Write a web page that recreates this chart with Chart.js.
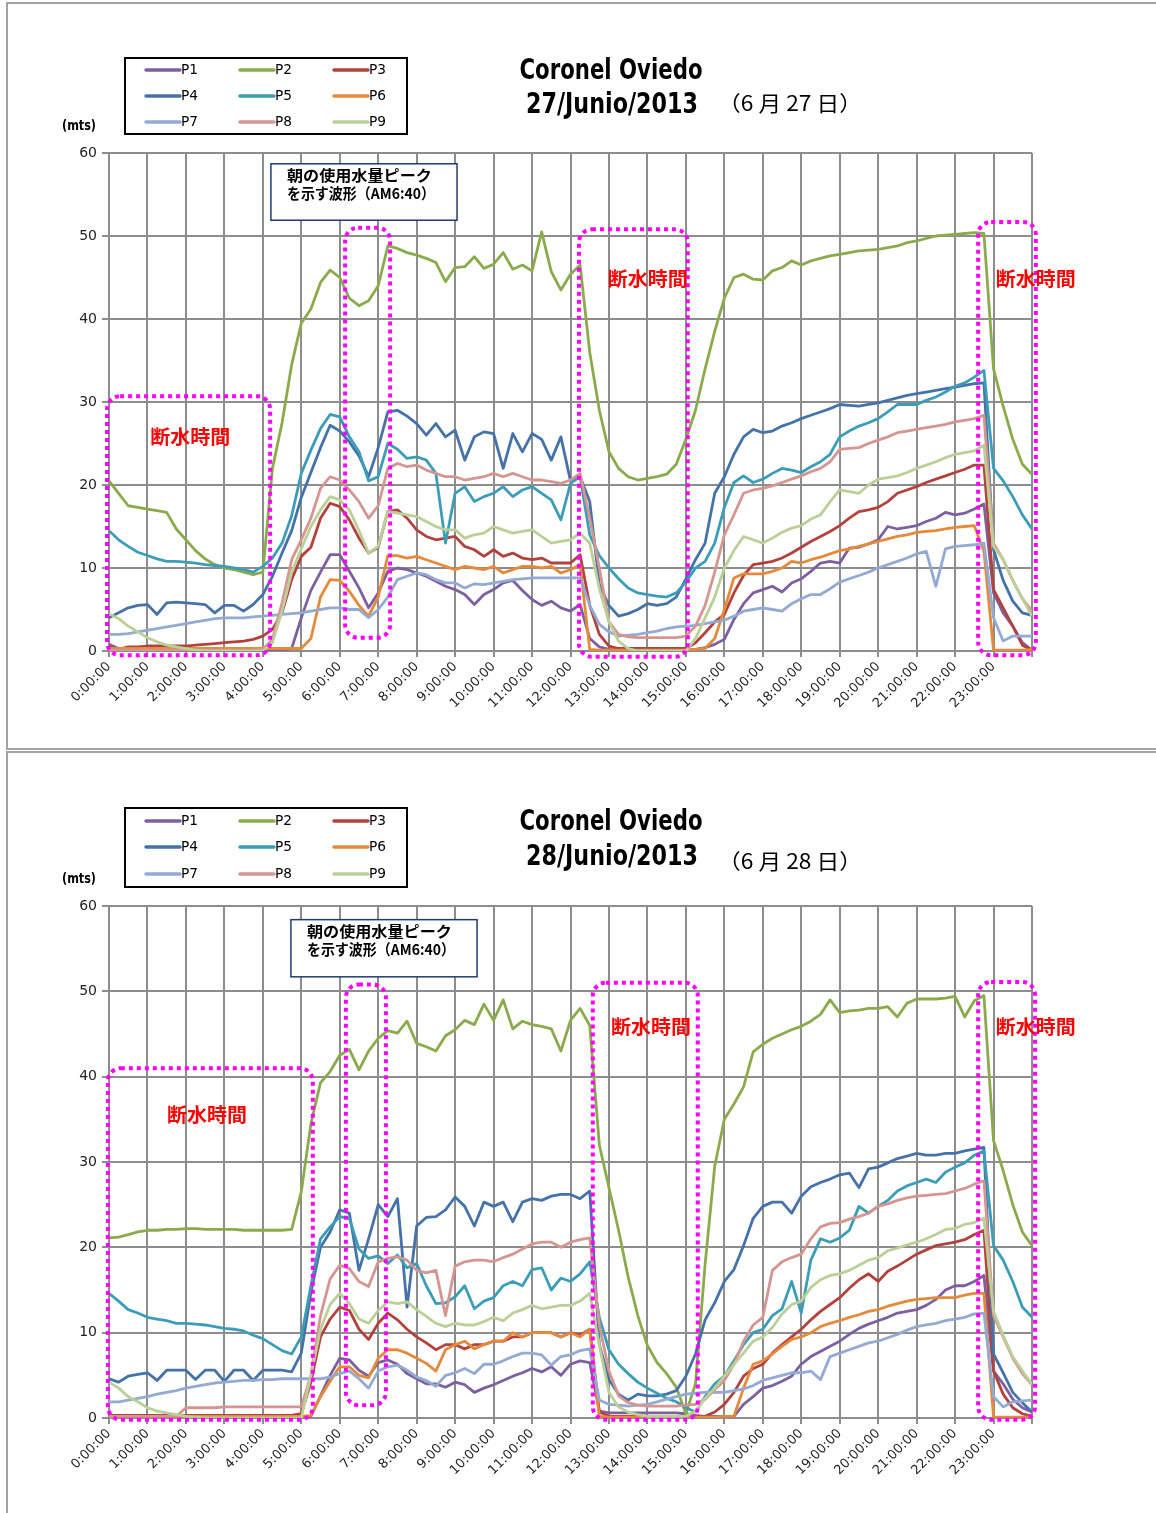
<!DOCTYPE html>
<html>
<head>
<meta charset="utf-8">
<script src="https://cdn.jsdelivr.net/npm/chart.js@4.4.0/dist/chart.umd.min.js"></script>
<style>
  html, body { margin: 0; padding: 0; background: #fff; width: 1156px; height: 1513px; overflow: hidden; }
  .panel { position: absolute; left: 6px; width: 1200px; border: 2px solid #a3a3a3; box-sizing: border-box; }
  #panelA { top: 2px; height: 748px; }
  #panelB { top: 751px; height: 800px; }
  canvas { position: absolute; left: 0; }
  #chartA { top: 0; }
  #chartB { top: 752px; }
</style>
</head>
<body>
<div class="panel" id="panelA"></div>
<div class="panel" id="panelB"></div>
<canvas id="chartA" width="1156" height="750"></canvas>
<canvas id="chartB" width="1156" height="761"></canvas>
<script>
// ---- Pressure readings (mts) every 15 minutes, 0:00 to 24:00 ----
const SAMPLES_PER_HOUR = 4;
const sampleHours = Array.from({ length: 24 * SAMPLES_PER_HOUR + 1 }, (_, i) => i / SAMPLES_PER_HOUR);

const hourLabels = ['0:00:00','1:00:00','2:00:00','3:00:00','4:00:00','5:00:00','6:00:00','7:00:00',
  '8:00:00','9:00:00','10:00:00','11:00:00','12:00:00','13:00:00','14:00:00','15:00:00','16:00:00',
  '17:00:00','18:00:00','19:00:00','20:00:00','21:00:00','22:00:00','23:00:00'];
const valueTicks = [0, 10, 20, 30, 40, 50, 60];

const seriesNames = ['P1', 'P2', 'P3', 'P4', 'P5', 'P6', 'P7', 'P8', 'P9'];
const seriesColors = ['#7d60a0', '#8aab4b', '#b2423e', '#4572a8', '#3c9db8', '#e58a3b', '#93aad3', '#d59591', '#bbd097'];

// 27 June 2013
const jun27P1 = [0.8,0.3,0.1,0.1, 0.1,0.1,0.1,0.1, 0.1,0.1,0.1,0.1, 0.1,0.1,0.1,0.1, 0.1,0.1,0.1,0.3, 4.0,7.3,9.5,11.6,
  11.6,9.6,7.6,5.2, 7.0,9.6,10.0,9.8, 9.4,9.0,8.4,7.8, 7.4,6.8,5.6,6.8, 7.4,8.2,8.5,7.3, 6.2,5.5,6.0,5.2,
  4.8,5.6,1.5,0.5, 0.2,0.1,0.1,0.1, 0.1,0.1,0.1,0.1, 0.1,0.2,0.4,0.8, 1.4,3.8,5.7,7.0, 7.4,7.8,7.1,8.2,
  8.7,9.6,10.6,10.8, 10.6,12.4,12.5,12.9, 13.4,15.0,14.7,14.9, 15.1,15.6,16.0,16.7, 16.4,16.6,17.1,17.7, 7.0,4.6,3.0,1.0, 0.1];
const jun27P2 = [20.5,19.0,17.5,17.3, 17.1,16.9,16.7,14.7, 13.4,12.1,11.1,10.4, 10.0,9.8,9.5,9.2, 9.5,22.0,27.5,34.5, 39.5,41.2,44.4,45.9,
  45.0,42.5,41.6,42.2, 44.0,48.8,48.5,48.0, 47.7,47.3,46.8,44.5, 46.2,46.3,47.5,46.1, 46.6,48.0,46.0,46.5, 45.8,50.5,45.7,43.5,
  45.4,46.5,36.0,29.0, 24.0,22.0,21.0,20.6, 20.8,21.0,21.3,22.5, 25.5,29.0,34.0,38.5, 42.5,45.0,45.4,44.8, 44.7,45.8,46.2,47.0,
  46.5,47.0,47.3,47.6, 47.8,48.0,48.2,48.3, 48.4,48.6,48.8,49.2, 49.4,49.7,50.0,50.1, 50.2,50.3,50.4,50.3, 34.0,29.5,25.5,22.5, 21.3];
const jun27P3 = [0.5,0.2,0.5,0.5, 0.6,0.6,0.6,0.6, 0.6,0.7,0.8,0.9, 1.0,1.1,1.2,1.4, 1.8,2.6,4.6,8.6, 11.4,12.5,16.0,17.8,
  17.4,15.8,13.6,11.8, 12.5,16.8,17.0,16.0, 14.6,13.8,13.4,13.6, 13.8,12.6,12.2,11.4, 12.2,11.4,11.8,11.2, 11.0,11.2,10.6,10.6,
  10.6,11.6,5.5,2.0, 0.6,0.3,0.3,0.3, 0.3,0.3,0.3,0.3, 0.3,1.0,2.2,3.5, 4.4,7.0,9.1,10.4, 10.6,10.8,11.2,11.8,
  12.5,13.2,13.8,14.4, 15.1,16.0,16.8,17.0, 17.3,18.0,19.0,19.4, 19.8,20.3,20.7,21.1, 21.5,21.9,22.4,22.4, 7.4,5.2,3.0,0.7, 0.1];
const jun27P4 = [4.0,4.6,5.2,5.5, 5.6,4.4,5.8,5.9, 5.8,5.7,5.6,4.6, 5.5,5.5,4.8,5.6, 6.8,9.0,11.8,14.5, 18.5,21.5,24.5,27.2,
  26.5,25.2,23.5,21.0, 24.5,28.8,29.0,28.3, 27.4,26.0,27.4,25.8, 26.6,23.0,25.8,26.4, 26.2,22.0,26.2,24.0, 26.2,25.5,23.0,25.8,
  20.5,21.0,18.0,8.0, 5.5,4.2,4.5,5.0, 5.7,5.5,5.7,6.5, 8.7,11.0,13.0,19.0, 21.0,23.7,25.8,26.7, 26.3,26.5,27.1,27.5,
  28.0,28.4,28.8,29.2, 29.7,29.6,29.5,29.7, 29.9,30.2,30.5,30.8, 31.0,31.2,31.4,31.6, 31.8,32.0,32.2,32.3, 12.2,8.5,6.0,4.6, 4.3];
const jun27P5 = [14.5,13.4,12.6,11.9, 11.5,11.1,10.8,10.8, 10.7,10.6,10.4,10.3, 10.2,10.0,9.8,9.5, 10.2,11.2,13.0,16.3, 21.4,24.2,26.8,28.5,
  28.2,25.8,24.0,20.5, 21.0,25.0,24.3,23.2, 23.4,23.0,21.4,13.0, 19.0,19.8,18.0,18.6, 19.0,19.8,18.6,19.4, 19.8,19.0,18.2,15.8,
  20.2,21.0,14.0,11.5, 10.0,8.7,7.6,7.0, 6.8,6.6,6.5,7.0, 8.3,10.0,10.8,13.0, 17.3,20.3,21.1,20.3, 20.7,21.4,22.0,21.8,
  21.5,22.2,22.8,23.7, 25.8,26.5,27.1,27.5, 28.0,28.8,29.7,29.7, 29.7,30.2,30.6,31.2, 31.9,32.3,33.0,33.8, 22.0,20.5,18.6,16.4, 14.7];
const jun27P6 = [0.3,0.3,0.3,0.3, 0.3,0.3,0.3,0.3, 0.3,0.3,0.3,0.3, 0.3,0.3,0.3,0.3, 0.3,0.3,0.3,0.3, 0.3,1.5,6.5,8.6,
  8.5,7.2,5.5,4.2, 6.5,11.5,11.5,11.2, 11.4,11.0,10.6,10.2, 9.8,10.2,10.0,9.8, 10.2,9.4,9.8,10.2, 10.2,10.0,10.2,9.4,
  9.8,10.4,0.2,0.1, 0.1,0.1,0.1,0.1, 0.1,0.1,0.1,0.1, 0.1,0.2,0.3,1.5, 5.0,8.8,9.3,9.3, 9.3,9.6,10.0,10.8,
  10.6,11.0,11.3,11.7, 12.1,12.3,12.6,12.9, 13.2,13.5,13.8,14.0, 14.3,14.4,14.5,14.7, 14.9,15.0,15.1,12.0, 0.1,0.1,0.1,0.1, 0.2];
const jun27P7 = [2.0,2.0,2.1,2.3, 2.5,2.7,2.9,3.1, 3.3,3.5,3.7,3.9, 4.0,4.0,4.0,4.1, 4.2,4.3,4.4,4.5, 4.6,4.8,5.0,5.2,
  5.2,5.0,5.0,4.0, 5.0,6.5,8.6,9.0, 9.4,9.2,8.6,8.2, 8.2,7.6,8.1,8.0, 8.2,8.4,8.6,8.7, 8.8,8.8,8.8,8.8,
  8.8,8.8,5.5,3.2, 2.3,1.8,1.9,2.0, 2.2,2.4,2.7,2.9, 3.0,3.1,3.3,3.5, 3.7,4.2,4.8,5.0, 5.2,5.0,4.8,5.7,
  6.3,6.8,6.8,7.5, 8.3,8.7,9.1,9.5, 10.0,10.4,10.8,11.2, 11.7,12.0,7.8,12.3, 12.6,12.7,12.8,13.0, 4.0,1.2,1.8,1.8, 1.8];
const jun27P8 = [0.1,0.1,0.1,0.1, 0.1,0.1,0.1,0.1, 0.1,0.1,0.1,0.1, 0.1,0.1,0.1,0.1, 0.2,1.4,5.8,11.0, 13.4,16.0,19.6,21.0,
  20.6,19.4,18.0,16.0, 17.5,22.0,22.6,22.2, 22.4,21.8,21.4,21.0, 21.0,20.6,20.8,21.0, 21.4,21.0,21.4,21.0, 20.6,20.6,20.4,20.2,
  20.6,21.4,16.0,10.0, 3.5,2.0,1.7,1.6, 1.6,1.6,1.6,1.6, 1.8,3.0,5.5,9.5, 14.0,16.4,19.0,19.4, 19.6,19.9,20.3,20.7,
  21.1,21.6,22.0,22.8, 24.3,24.4,24.5,25.0, 25.4,25.8,26.3,26.5, 26.7,26.9,27.1,27.3, 27.6,27.8,28.0,28.4, 13.0,11.0,8.5,6.3, 4.8];
const jun27P9 = [4.5,3.9,3.0,2.3, 1.6,1.1,0.7,0.5, 0.3,0.1,0,0, 0,0,0,0, 0,1.0,4.8,9.5, 12.3,15.0,17.0,18.6,
  18.2,17.0,14.5,11.8, 12.6,16.8,16.6,16.4, 16.2,15.6,15.0,14.6, 14.6,13.6,14.0,14.2, 15.0,14.6,14.2,14.4, 14.6,13.8,13.0,13.2,
  13.4,14.2,13.0,7.5, 3.5,1.2,0.3,0, 0,0,0,0, 0,1.5,4.0,6.5, 10.0,12.1,13.8,13.4, 13.0,13.6,14.3,14.8,
  15.1,15.9,16.4,18.0, 19.4,19.2,19.0,20.0, 20.7,20.9,21.1,21.5, 22.0,22.4,22.8,23.3, 23.7,23.9,24.1,24.8, 12.6,11.0,8.5,6.3, 4.2];

// 28 June 2013
const jun28P1 = [0.1,0.1,0.1,0.1, 0.1,0.1,0.1,0.1, 0.1,0.1,0.1,0.1, 0.1,0.1,0.1,0.1, 0.1,0.1,0.1,0.1, 0.1,0.2,2.6,5.0,
  7.0,6.8,5.6,4.9, 6.5,6.8,6.3,5.2, 4.6,4.0,4.0,3.6, 4.2,3.9,3.0,3.5, 3.9,4.4,4.9,5.3, 5.8,5.4,6.0,5.0,
  6.3,6.7,6.5,0.8, 0.6,0.6,0.6,0.6, 0.6,0.6,0.6,0.6, 0.5,0.3,0.2,0.2, 0.2,0.2,1.6,2.5, 3.5,3.8,4.3,4.9,
  6.3,7.2,7.8,8.4, 9.0,9.8,10.5,11.0, 11.4,11.8,12.3,12.5, 12.7,13.2,13.9,15.0, 15.5,15.5,16.0,16.7, 5.5,4.0,2.2,1.2, 0.7];
const jun28P2 = [21.1,21.2,21.5,21.8, 22.0,22.0,22.1,22.1, 22.2,22.2,22.1,22.1, 22.1,22.1,22.0,22.0, 22.0,22.0,22.0,22.1, 26.5,34.5,39.3,40.6,
  42.5,43.2,40.8,43.0, 44.5,45.4,45.1,46.5, 43.9,43.5,43.0,44.8, 45.5,46.6,46.1,48.5, 46.6,49.0,45.6,46.5, 46.1,45.9,45.6,43.0,
  46.6,48.0,46.0,32.0, 27.0,22.0,16.5,12.0, 8.5,6.5,5.2,3.6, 0.5,4.0,18.0,29.5, 35.0,36.8,38.8,42.9, 43.8,44.5,45.0,45.5,
  45.9,46.5,47.3,49.0, 47.5,47.7,47.8,48.0, 48.0,48.2,47.0,48.6, 49.1,49.1,49.1,49.2, 49.4,47.0,48.9,49.5, 32.5,29.0,25.0,21.8, 20.2];
const jun28P3 = [0.3,0.3,0.3,0.3, 0.3,0.3,0.3,0.3, 0.3,0.3,0.3,0.3, 0.3,0.3,0.3,0.3, 0.3,0.3,0.3,0.3, 0.5,4.2,9.5,11.6,
  13.0,12.6,10.4,9.2, 11.1,12.3,11.5,10.4, 9.5,8.8,8.0,8.6, 8.6,8.1,8.6,8.6, 9.0,9.0,9.5,9.5, 10.0,10.0,10.0,9.5,
  10.0,9.7,10.4,0.7, 0.2,0.2,0.2,0.2, 0.2,0.2,0.2,0.2, 0.2,0.2,0.2,0.7, 1.6,3.0,4.9,5.8, 6.3,7.6,8.6,9.5,
  10.4,11.5,12.5,13.3, 14.1,15.2,16.2,16.9, 16.0,17.2,17.8,18.5, 19.2,19.7,20.2,20.4, 20.6,20.9,21.5,22.0, 5.5,2.8,1.2,0.5, 0.2];
const jun28P4 = [4.6,4.2,4.9,5.1, 5.3,4.4,5.6,5.6, 5.6,4.5,5.6,5.6, 4.3,5.6,5.6,4.4, 5.6,5.6,5.6,5.4, 7.6,14.7,20.0,21.8,
  24.4,24.0,17.3,21.0, 25.0,23.6,25.7,13.0, 22.5,23.5,23.6,24.4, 25.9,24.8,22.5,25.3, 24.8,25.3,23.0,25.3, 25.7,25.5,26.0,26.2,
  26.2,25.7,26.6,8.6, 4.5,2.8,2.1,2.8, 2.6,2.6,2.8,3.2, 4.9,7.5,11.5,13.5, 16.0,17.4,20.2,23.4, 24.8,25.3,25.3,24.0,
  26.0,27.1,27.6,28.0, 28.5,28.7,27.0,29.2, 29.4,29.9,30.4,30.7, 31.0,30.8,30.8,31.0, 31.0,31.3,31.5,31.7, 7.5,5.3,3.0,1.8, 0.7];
const jun28P5 = [14.6,13.7,12.7,12.3, 11.8,11.6,11.4,11.1, 11.1,11.0,10.9,10.7, 10.5,10.4,10.2,9.7, 9.3,8.6,7.9,7.5, 9.5,15.5,21.0,22.4,
  23.6,23.4,19.8,18.7, 19.0,18.1,19.1,17.6, 18.1,15.5,13.4,13.5, 14.2,15.5,12.8,13.7, 14.1,15.5,16.0,15.5, 17.4,17.6,15.0,16.4,
  16.0,16.9,18.3,11.8, 8.0,6.3,5.2,4.2, 3.5,2.9,2.3,1.9, 1.2,0.7,2.5,4.0, 4.9,6.7,8.6,10.0, 10.4,12.0,12.8,16.0,
  12.3,18.5,21.0,20.6, 21.1,22.0,24.8,24.0, 24.8,25.5,26.6,27.2, 27.6,28.0,27.6,28.8, 29.4,29.9,30.8,31.3, 20.2,18.5,16.0,13.0, 11.8];
const jun28P6 = [0.2,0.2,0.2,0.2, 0.2,0.2,0.2,0.2, 0.2,0.2,0.2,0.2, 0.2,0.2,0.2,0.2, 0.2,0.2,0.2,0.2, 0.2,0.3,2.5,4.3,
  6.0,6.0,5.0,4.7, 7.0,8.0,8.0,7.6, 7.0,6.4,5.5,8.0, 8.6,9.0,8.1,8.6, 9.0,9.0,10.0,9.5, 10.0,10.0,10.0,9.5,
  10.0,9.5,10.4,0.2, 0.1,0.1,0.1,0.1, 0.1,0.1,0.1,0.1, 0.1,0.1,0.1,0.1, 0.2,0.2,3.5,6.3, 6.7,7.5,8.4,9.2,
  9.5,10.0,10.7,11.1, 11.4,11.8,12.1,12.5, 12.7,13.1,13.4,13.7, 13.9,14.0,14.1,14.1, 14.1,14.4,14.6,14.6, 0.1,0.1,0.1,0.1, 0.1];
const jun28P7 = [1.9,1.9,2.1,2.3, 2.5,2.8,3.0,3.2, 3.5,3.7,3.9,4.1, 4.2,4.3,4.4,4.4, 4.5,4.5,4.6,4.6, 4.6,4.6,4.6,4.8,
  5.2,5.5,4.6,3.5, 5.5,6.0,6.2,5.6, 4.8,4.4,3.7,5.0, 5.3,5.8,5.2,6.3, 6.3,6.7,7.2,7.6, 7.6,7.4,6.2,7.2,
  7.4,7.9,8.1,2.1, 1.6,1.5,1.4,1.5, 1.6,1.9,2.2,2.5, 2.8,2.9,3.0,3.0, 3.0,3.2,3.4,3.8, 4.4,4.7,5.0,5.3,
  5.3,5.5,4.5,7.2, 7.6,8.0,8.4,8.8, 9.0,9.4,9.8,10.3, 10.7,10.9,11.1,11.4, 11.6,11.8,12.2,12.3, 2.5,1.3,1.9,2.0, 2.1];
const jun28P8 = [0.2,0.2,0.2,0.2, 0.2,0.2,0.2,0.2, 1.2,1.2,1.2,1.2, 1.3,1.3,1.3,1.3, 1.3,1.3,1.3,1.3, 1.3,5.0,12.0,16.3,
  17.9,17.5,16.0,15.4, 18.3,18.7,18.9,18.5, 17.3,17.0,17.3,12.0, 17.8,18.3,18.5,18.5, 18.3,18.8,19.2,19.8, 20.4,20.6,20.6,20.0,
  20.6,20.9,21.1,10.9, 5.5,2.6,1.8,1.5, 1.4,1.4,1.4,1.4, 1.5,1.6,2.2,3.3, 4.4,6.3,9.0,10.9, 11.8,17.3,18.3,18.8,
  19.2,21.0,22.4,22.8, 22.9,23.3,23.6,24.0, 24.8,25.1,25.5,25.8, 26.0,26.1,26.2,26.3, 26.6,26.9,27.4,27.8, 12.0,9.5,7.0,5.2, 3.9];
const jun28P9 = [4.2,3.5,2.5,1.9, 1.2,0.8,0.6,0.4, 0.2,0.1,0,0, 0,0,0,0, 0,0,0,0, 0,5.0,10.4,13.3,
  14.6,13.4,11.6,11.1, 12.6,13.6,13.4,13.6, 12.7,11.9,11.1,10.7, 11.1,10.9,10.9,11.3, 11.8,11.4,12.3,12.7, 13.2,12.8,13.0,13.2,
  13.2,13.7,14.6,8.5, 3.0,1.3,0.7,0.4, 0.2,0.2,0.2,0.2, 0.2,0.8,2.3,3.5, 4.9,6.3,7.6,9.0, 9.5,10.6,12.2,13.3,
  13.7,15.3,16.2,16.7, 16.9,17.3,17.9,18.5, 18.8,19.6,19.9,20.3, 20.6,21.0,21.5,22.1, 22.2,22.7,22.9,23.4, 12.5,9.7,7.2,5.5, 3.9];

// ---- Drawing helpers ----
const GRID = '#8d8d8d';
const TICK_FAMILY = '"DejaVu Sans", Verdana, sans-serif';
const NARROW = '"Liberation Sans Narrow", "DejaVu Sans Condensed", "Liberation Sans", sans-serif';
const CJK = '"Noto Sans CJK JP", "Noto Sans CJK SC", sans-serif';

function fitText(ctx, text, x, yMid, width, font, align) {
  ctx.save();
  ctx.font = font;
  const w = ctx.measureText(text).width;
  const sx = width / w;
  const left = align === 'center' ? x - width / 2 : x;
  ctx.translate(left, yMid);
  ctx.scale(sx, 1);
  ctx.textAlign = 'left';
  ctx.textBaseline = 'middle';
  ctx.fillText(text, 0, 0);
  ctx.restore();
}

const panelDeco = {
  id: 'panelDeco',
  afterDatasetsDraw(chart, args, o) {
    const { ctx, scales: { x, y } } = chart;
    ctx.save();
    // outage periods: dotted magenta rounded frames
    ctx.strokeStyle = '#ff00ff';
    ctx.lineWidth = 4;
    ctx.setLineDash([4, 4]);
    for (const b of o.outages) {
      const l = x.getPixelForValue(b.from), r = x.getPixelForValue(b.to);
      const t = y.getPixelForValue(b.top), btm = y.getPixelForValue(b.bottom);
      ctx.beginPath();
      ctx.roundRect(l, t, r - l, btm - t, 13);
      ctx.stroke();
    }
    ctx.setLineDash([]);
    ctx.fillStyle = '#ff0000';
    for (const b of o.outages) {
      if (!b.label) continue;
      fitText(ctx, '断水時間', x.getPixelForValue(b.label[0]), y.getPixelForValue(b.label[1]), 80,
        'bold 19px ' + CJK, 'left');
    }
    // morning peak note
    const n = o.note;
    const nl = x.getPixelForValue(n.from), nr = x.getPixelForValue(n.to);
    const nt = y.getPixelForValue(n.top), nb = y.getPixelForValue(n.bottom);
    ctx.fillStyle = '#fff';
    ctx.fillRect(nl, nt, nr - nl, nb - nt);
    ctx.strokeStyle = '#1f3b73';
    ctx.lineWidth = 1.5;
    ctx.strokeRect(nl, nt, nr - nl, nb - nt);
    ctx.fillStyle = '#000';
    fitText(ctx, '朝の使用水量ピーク', nl + 16, nt + 12, 145, 'bold 15px ' + CJK, 'left');
    fitText(ctx, 'を示す波形（AM6:40）', nl + 16, nt + 30, 148, 'bold 15px ' + CJK, 'left');
    ctx.restore();
  },
  afterDraw(chart, args, o) {
    const { ctx } = chart;
    ctx.save();
    // legend
    const L = o.legend;
    ctx.fillStyle = '#fff';
    ctx.fillRect(L.left, L.top, L.width, L.height);
    ctx.strokeStyle = '#000';
    ctx.lineWidth = 2;
    ctx.strokeRect(L.left, L.top, L.width, L.height);
    const cols = [146, 240, 334];
    seriesNames.forEach((name, i) => {
      const cx = cols[i % 3];
      const cy = L.rows[Math.floor(i / 3)];
      ctx.strokeStyle = seriesColors[i];
      ctx.lineWidth = 3.5;
      ctx.lineCap = 'round';
      ctx.beginPath();
      ctx.moveTo(cx, cy);
      ctx.lineTo(cx + 34, cy);
      ctx.stroke();
      ctx.fillStyle = '#000';
      fitText(ctx, name, cx + 35, cy, 17, '14px ' + NARROW, 'left');
    });
    // titles
    ctx.fillStyle = '#000';
    fitText(ctx, 'Coronel Oviedo', 611, o.titleY, 183, 'bold 28px ' + NARROW, 'center');
    fitText(ctx, o.dateText, 612, o.dateY, 172, 'bold 28px ' + NARROW, 'center');
    fitText(ctx, o.jpDate, 718, o.jpY, 144, '21px ' + CJK, 'left');
    fitText(ctx, '(mts)', 62, o.unitY, 34, 'bold 14px ' + NARROW, 'left');
    ctx.restore();
  }
};

function buildChart(canvasId, seriesValues, deco, area) {
  const datasets = seriesValues.map((vals, i) => ({
    label: seriesNames[i],
    data: vals.map((v, k) => ({ x: sampleHours[k], y: v })),
    borderColor: seriesColors[i],
    borderWidth: 2.8,
    pointRadius: 0,
    tension: 0,
    borderJoinStyle: 'round',
    order: seriesNames.length - i
  }));
  return new Chart(document.getElementById(canvasId), {
    type: 'line',
    data: { datasets },
    plugins: [panelDeco],
    options: {
      responsive: false,
      animation: false,
      events: [],
      layout: { padding: { top: area.top, right: area.right, left: 0, bottom: 0 } },
      plugins: { legend: { display: false }, tooltip: { enabled: false }, panelDeco: deco },
      scales: {
        x: {
          type: 'linear', min: 0, max: 24,
          afterFit(s) { s.height = area.xHeight; },
          afterBuildTicks(s) { s.ticks = hourLabels.map((_, h) => ({ value: h })).concat([{ value: 24 }]); },
          grid: { color: GRID, lineWidth: 2, tickLength: 6, tickColor: GRID },
          border: { color: GRID, width: 2 },
          ticks: {
            autoSkip: false, maxRotation: 45, minRotation: 45, padding: 2,
            color: '#222', font: { family: TICK_FAMILY, size: 13 },
            callback: (v) => hourLabels[v] ?? ''
          }
        },
        y: {
          min: 0, max: 60,
          afterFit(s) { s.width = 109; },
          afterBuildTicks(s) { s.ticks = valueTicks.map(v => ({ value: v })); },
          grid: { color: GRID, lineWidth: 2, tickLength: 7, tickColor: GRID },
          border: { color: GRID, width: 2 },
          ticks: { color: '#222', font: { family: TICK_FAMILY, size: 14 }, padding: 5 }
        }
      }
    }
  });
}

buildChart('chartA', [jun27P1, jun27P2, jun27P3, jun27P4, jun27P5, jun27P6, jun27P7, jun27P8, jun27P9], {
  legend: { left: 125, top: 58, width: 282, height: 76, rows: [70, 96, 122] },
  titleY: 72, dateText: '27/Junio/2013', dateY: 106, jpDate: '（6 月 27 日）', jpY: 103, unitY: 126,
  note: { from: 4.21, to: 9.05, top: 58.7, bottom: 51.9 },
  outages: [
    { from: -0.05, to: 4.19, top: 30.7, bottom: -0.5, label: [1.07, 25.8] },
    { from: 6.14, to: 7.31, top: 51.0, bottom: 1.6 },
    { from: 12.22, to: 15.05, top: 50.8, bottom: -0.7, label: [12.97, 44.9] },
    { from: 22.6, to: 24.1, top: 51.7, bottom: -0.5, label: [23.06, 44.9] }
  ]
}, { top: 153, right: 124, xHeight: 99 });

buildChart('chartB', [jun28P1, jun28P2, jun28P3, jun28P4, jun28P5, jun28P6, jun28P7, jun28P8, jun28P9], {
  legend: { left: 125, top: 56, width: 282, height: 79, rows: [69, 95, 122] },
  titleY: 71, dateText: '28/Junio/2013', dateY: 106, jpDate: '（6 月 28 日）', jpY: 109, unitY: 127,
  note: { from: 4.73, to: 9.57, top: 58.4, bottom: 51.7 },
  outages: [
    { from: -0.03, to: 5.3, top: 41.0, bottom: -0.2, label: [1.51, 35.5] },
    { from: 6.16, to: 7.2, top: 50.8, bottom: 1.5 },
    { from: 12.58, to: 15.31, top: 51.0, bottom: -0.2, label: [13.05, 45.8] },
    { from: 22.6, to: 24.08, top: 51.1, bottom: -0.2, label: [23.06, 45.8] }
  ]
}, { top: 154, right: 124, xHeight: 95 });
</script>
</body>
</html>
